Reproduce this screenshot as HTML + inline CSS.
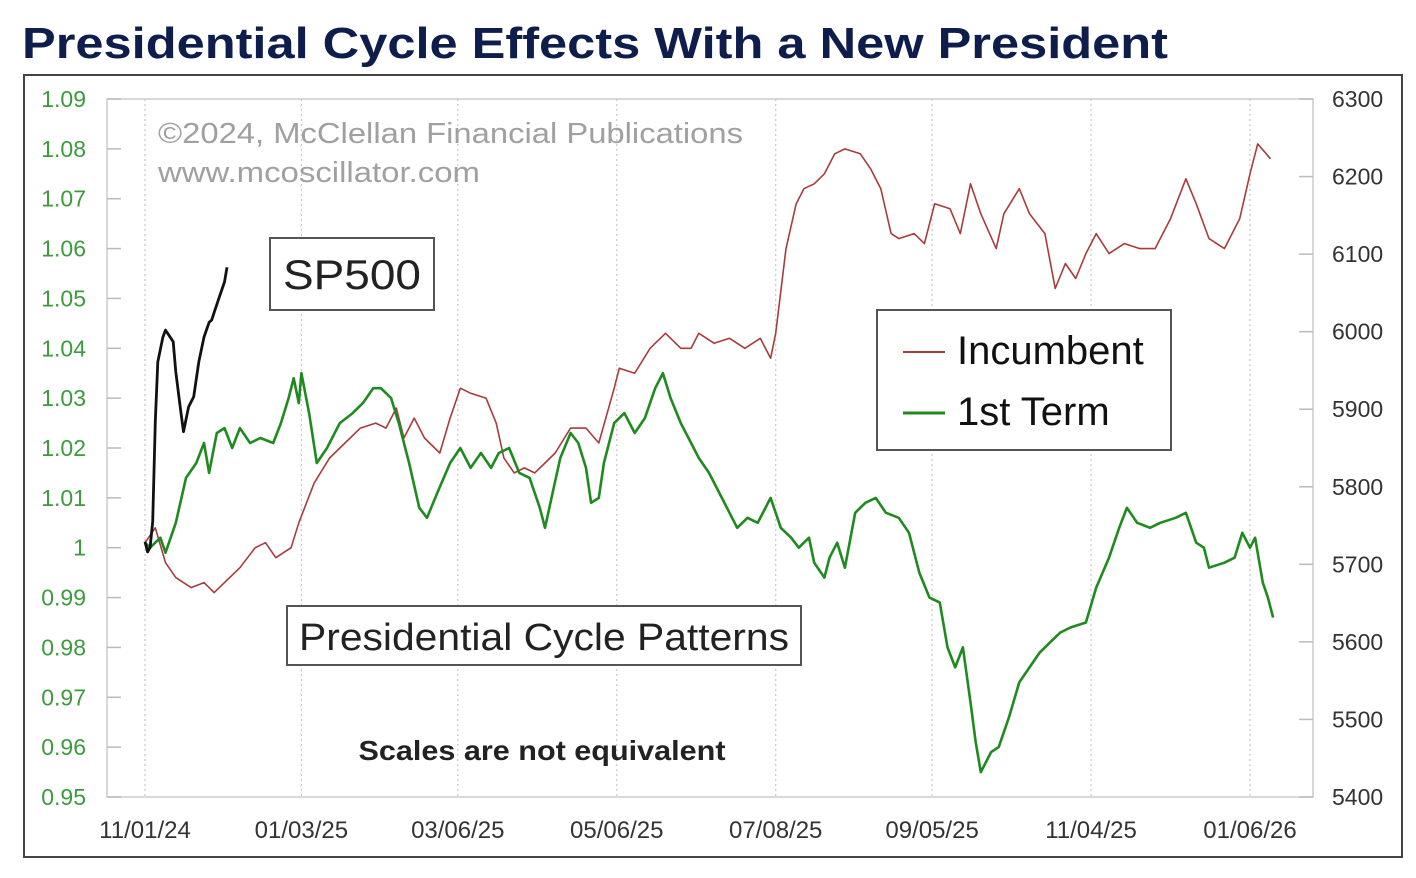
<!DOCTYPE html>
<html><head><meta charset="utf-8">
<style>
html,body{margin:0;padding:0;background:#fff;}
svg{display:block;font-family:"Liberation Sans",sans-serif;}
</style></head>
<body>
<svg id="chart" width="1416" height="878" viewBox="0 0 1416 878">
<text x="22" y="58" font-size="44" font-weight="bold" fill="#0f1d4d" textLength="1146" lengthAdjust="spacingAndGlyphs">Presidential Cycle Effects With a New President</text>
<rect x="24" y="75" width="1378" height="782" fill="#fff" stroke="#444" stroke-width="2"/>
<rect x="107" y="99" width="1206" height="698" fill="#fff" stroke="#ccc" stroke-width="1.5"/>
<g id="grid"></g>
<g id="axes"></g>
<text x="158" y="143" font-size="29" fill="#a0a0a0" textLength="585" lengthAdjust="spacingAndGlyphs">©2024, McClellan Financial Publications</text>
<text x="158" y="182" font-size="29" fill="#a0a0a0" textLength="322" lengthAdjust="spacingAndGlyphs">www.mcoscillator.com</text>
<g id="series"></g>
<g>
<rect x="270" y="238" width="164" height="72" fill="#fff" stroke="#555" stroke-width="2"/>
<text x="352" y="289" font-size="42" text-anchor="middle" fill="#222" textLength="138" lengthAdjust="spacingAndGlyphs">SP500</text>
</g>
<g>
<rect x="877" y="310" width="294" height="140" fill="#fff" stroke="#555" stroke-width="2"/>
<line x1="903" y1="352" x2="945" y2="352" stroke="#a83c3c" stroke-width="2"/>
<text x="957" y="364" font-size="40" fill="#111">Incumbent</text>
<line x1="903" y1="413" x2="945" y2="413" stroke="#1f8a1f" stroke-width="3"/>
<text x="957" y="425" font-size="40" fill="#111">1st Term</text>
</g>
<g>
<rect x="287" y="606" width="514" height="59" fill="#fff" stroke="#555" stroke-width="2"/>
<text x="544" y="650" font-size="38" text-anchor="middle" fill="#222" textLength="490" lengthAdjust="spacingAndGlyphs">Presidential Cycle Patterns</text>
</g>
<text x="542" y="760" font-size="28" text-anchor="middle" fill="#222" font-weight="bold" textLength="367" lengthAdjust="spacingAndGlyphs">Scales are not equivalent</text>
</svg>
<script>
const xTickLabels = ["11/01/24","01/03/25","03/06/25","05/06/25","07/08/25","09/05/25","11/04/25","01/06/26"];
const xTickDays = [0,61,122,184,246,307,369,431];
const leftTicks = [1.09,1.08,1.07,1.06,1.05,1.04,1.03,1.02,1.01,1,0.99,0.98,0.97,0.96,0.95];
const rightTicks = [6300,6200,6100,6000,5900,5800,5700,5600,5500,5400];

const incDays = [0,4,8,12,18,23,27,31,37,43,47,51,57,60,66,72,78,84,90,94,98,101,105,109,115,119,123,127,133,137,140,144,148,152,156,160,166,172,177,183,185,191,197,203,209,213,216,222,228,234,240,244,246,250,254,257,261,265,269,273,279,283,287,291,294,300,304,308,314,318,322,326,332,335,341,345,351,355,359,363,367,371,376,382,388,394,400,406,410,415,421,427,431,434,439];
const incVals = [1.001,1.004,0.997,0.994,0.992,0.993,0.991,0.993,0.996,1.000,1.001,0.998,1.000,1.005,1.013,1.018,1.021,1.024,1.025,1.024,1.028,1.022,1.026,1.022,1.019,1.026,1.032,1.031,1.030,1.025,1.018,1.015,1.016,1.015,1.017,1.019,1.024,1.024,1.021,1.032,1.036,1.035,1.040,1.043,1.040,1.040,1.043,1.041,1.042,1.040,1.042,1.038,1.043,1.060,1.069,1.072,1.073,1.075,1.079,1.080,1.079,1.076,1.072,1.063,1.062,1.063,1.061,1.069,1.068,1.063,1.073,1.067,1.060,1.067,1.072,1.067,1.063,1.052,1.057,1.054,1.059,1.063,1.059,1.061,1.060,1.060,1.066,1.074,1.069,1.062,1.060,1.066,1.075,1.081,1.078];

const ftDays = [0,2,6,8,12,16,20,23,25,28,31,34,37,41,45,50,53,56,58,60,61,64,67,71,76,81,85,89,92,96,99,103,107,110,114,119,123,127,131,135,138,142,146,150,154,156,159,162,166,169,172,174,177,179,183,187,191,195,199,202,205,209,213,216,220,224,228,231,235,239,244,248,252,255,259,261,265,267,270,273,277,281,285,289,294,298,302,306,310,313,316,319,322,324,326,330,333,337,341,345,349,353,357,361,367,371,376,380,383,387,392,396,402,406,410,413,415,421,425,428,431,433,436,438,440];
const ftVals = [1.001,1.000,1.002,0.999,1.005,1.014,1.017,1.021,1.015,1.023,1.024,1.020,1.024,1.021,1.022,1.021,1.025,1.030,1.034,1.029,1.035,1.027,1.017,1.020,1.025,1.027,1.029,1.032,1.032,1.030,1.025,1.017,1.008,1.006,1.011,1.017,1.020,1.016,1.019,1.016,1.019,1.020,1.015,1.014,1.008,1.004,1.011,1.018,1.023,1.021,1.016,1.009,1.010,1.017,1.025,1.027,1.023,1.026,1.032,1.035,1.030,1.025,1.021,1.018,1.015,1.011,1.007,1.004,1.006,1.005,1.010,1.004,1.002,1.000,1.002,0.997,0.994,0.998,1.001,0.996,1.007,1.009,1.010,1.007,1.006,1.003,0.995,0.990,0.989,0.980,0.976,0.980,0.969,0.961,0.955,0.959,0.960,0.966,0.973,0.976,0.979,0.981,0.983,0.984,0.985,0.992,0.998,1.004,1.008,1.005,1.004,1.005,1.006,1.007,1.001,1.000,0.996,0.997,0.998,1.003,1.000,1.002,0.993,0.990,0.986];

const spDays = [0,1,2,3,4,5,7,8,11,12,14,15,17,19,21,23,25,26,27,29,31,32];
const spVals = [5729,5716,5722,5755,5884,5961,5993,6002,5987,5948,5896,5871,5903,5916,5961,5993,6012,6015,6025,6045,6064,6083];

const NS = "http://www.w3.org/2000/svg";
const PL = 107, PR = 1313, PT = 99, PB = 797;
function xScale(d){ return 145 + d * (1250 - 145) / 431; }
function yLeft(v){ return PT + (1.09 - v) / 0.14 * (PB - PT); }
function yRight(v){ return PT + (6300 - v) / 900 * (PB - PT); }
function mk(tag, attrs, parent){ const e = document.createElementNS(NS, tag); for (const k in attrs) e.setAttribute(k, attrs[k]); parent.appendChild(e); return e; }

const grid = document.getElementById("grid");
const axes = document.getElementById("axes");
xTickDays.forEach((d, i) => {
  const x = xScale(d);
  const gl = mk("line", {x1:x, y1:PT, x2:x, y2:PB, stroke:"#c8c8c8", "stroke-width":1.2, "stroke-dasharray":"2,3"}, grid);
  
  
  const t = mk("text", {x:x, y:838, "font-size":24, "text-anchor":"middle", fill:"#333"}, axes);
  t.textContent = xTickLabels[i];
  
  
});
leftTicks.forEach(v => {
  const y = yLeft(v);
  const tk = mk("line", {x1:PL, y1:y, x2:PL+14, y2:y, stroke:"#bbb", "stroke-width":1.5}, axes);
  
  
  const t = mk("text", {x:86, y:y+8, "font-size":23, "text-anchor":"end", fill:"#3d9a3d"}, axes);
  t.textContent = (v === 1) ? "1" : String(v);
  
  
});
rightTicks.forEach(v => {
  const y = yRight(v);
  const tk = mk("line", {x1:PR-14, y1:y, x2:PR, y2:y, stroke:"#bbb", "stroke-width":1.5}, axes);
  
  
  const t = mk("text", {x:1332, y:y+8, "font-size":23, fill:"#333"}, axes);
  t.textContent = String(v);
  
  
});

const series = document.getElementById("series");
function path(days, vals, yf){ return days.map((d,i)=>(i?"L":"M")+xScale(d).toFixed(1)+","+yf(vals[i]).toFixed(1)).join(""); }
const inc = mk("path", {d:path(incDays, incVals, yLeft), fill:"none", stroke:"#a83c3c", "stroke-width":1.6, "stroke-linejoin":"round"}, series);


const ft = mk("path", {d:path(ftDays, ftVals, yLeft), fill:"none", stroke:"#1f8a1f", "stroke-width":2.6, "stroke-linejoin":"round"}, series);


const sp = mk("path", {d:path(spDays, spVals, yRight), fill:"none", stroke:"#111", "stroke-width":2.8, "stroke-linejoin":"round"}, series);


</script>
</body></html>
